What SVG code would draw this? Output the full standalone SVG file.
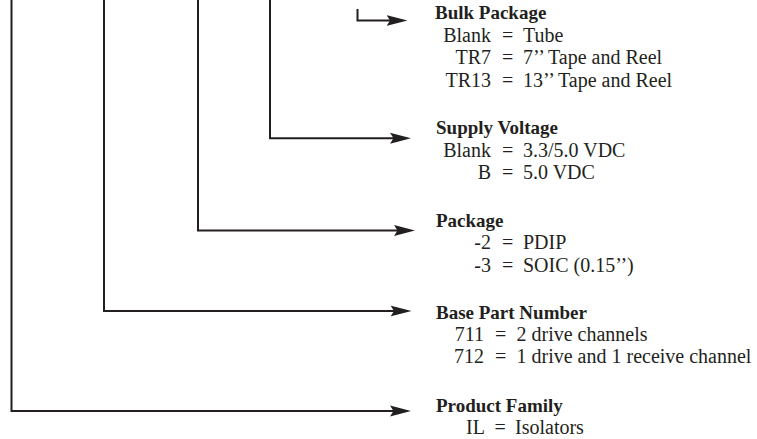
<svg xmlns="http://www.w3.org/2000/svg" width="757" height="439" viewBox="0 0 757 439">
<style>
text{font-family:"Liberation Serif","Times New Roman",serif;font-size:20px;fill:#231f20}
.h{font-weight:bold;font-size:19px}
.l{text-anchor:end}
.c{fill:none;stroke:#231f20;stroke-width:2;marker-end:url(#ah)}
</style>
<defs>
<marker id="ah" markerUnits="userSpaceOnUse" markerWidth="21" markerHeight="12" viewBox="0 0 21 12" refX="6" refY="6" orient="auto">
<path d="M0,0.5 L21,6 L0,11.5 L3.5,6 Z" fill="#231f20"/>
</marker>
</defs>
<rect width="757" height="439" fill="#fff"/>
<g id="connectors">
<path class="c" d="M11.5,0 V411 H396"/>
<path class="c" d="M104,0 V311 H396.5"/>
<path class="c" d="M198,0 V230.5 H400"/>
<path class="c" d="M270,0 V138.3 H396"/>
<path class="c" d="M357.5,9 V20.5 H392.5"/>
</g>
<g id="bulk-package">
<text class="h" x="435" y="18.5">Bulk Package</text>
<text class="l" x="491" y="41.7">Blank</text><text x="502" y="41.7">=</text><text x="523" y="41.7">Tube</text>
<text class="l" x="491" y="64.3">TR7</text><text x="502" y="64.3">=</text><text x="523" y="64.3">7’’ Tape and Reel</text>
<text class="l" x="491" y="87">TR13</text><text x="502" y="87">=</text><text x="523" y="87">13’’ Tape and Reel</text>
</g>
<g id="supply-voltage">
<text class="h" x="436" y="133.5">Supply Voltage</text>
<text class="l" x="491" y="156.5">Blank</text><text x="502" y="156.5">=</text><text x="523" y="156.5">3.3/5.0 VDC</text>
<text class="l" x="491" y="179">B</text><text x="502" y="179">=</text><text x="523" y="179">5.0 VDC</text>
</g>
<g id="package">
<text class="h" x="436" y="226.5">Package</text>
<text class="l" x="491" y="248.5">-2</text><text x="502" y="248.5">=</text><text x="523" y="248.5">PDIP</text>
<text class="l" x="491" y="271.7">-3</text><text x="502" y="271.7">=</text><text x="523" y="271.7">SOIC (0.15’’)</text>
</g>
<g id="base-part-number">
<text class="h" x="436" y="318.5">Base Part Number</text>
<text class="l" x="484" y="340.5">711</text><text x="495" y="340.5">=</text><text x="516.5" y="340.5">2 drive channels</text>
<text class="l" x="484" y="363">712</text><text x="495" y="363">=</text><text x="516.5" y="363">1 drive and 1 receive channel</text>
</g>
<g id="product-family">
<text class="h" x="436" y="412">Product Family</text>
<text class="l" x="485" y="434">IL</text><text x="494.5" y="434">=</text><text x="515" y="434">Isolators</text>
</g>
</svg>
